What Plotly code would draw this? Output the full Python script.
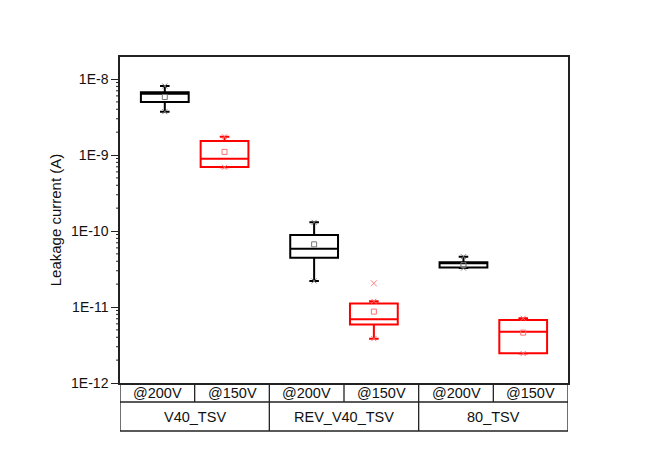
import plotly.graph_objects as go

# ---- data ----
groups = ["V40_TSV", "REV_V40_TSV", "80_TSV"]
conditions = ["@200V", "@150V"]

# @200V (black)
b_q1 = [5.0e-9, 4.45e-11, 3.3e-11]
b_med = [6.4e-9, 5.85e-11, 3.8e-11]
b_q3 = [6.68e-9, 8.85e-11, 3.87e-11]
b_low = [3.72e-9, 2.2e-11, 3.25e-11]
b_up = [8.09e-9, 1.30e-10, 4.59e-11]
b_mean = [5.8e-9, 6.68e-11, 3.55e-11]

# @150V (red)
r_q1 = [6.95e-10, 5.9e-12, 2.46e-12]
r_med = [8.94e-10, 6.9e-12, 4.73e-12]
r_q3 = [1.53e-9, 1.11e-11, 6.74e-12]
r_low = [6.9e-10, 3.83e-12, 2.44e-12]
r_up = [1.74e-9, 1.19e-11, 7.1e-12]
r_mean = [1.1e-9, 8.7e-12, 4.6e-12]

# outliers (group index, value) for @150V
r_out_group = [1]
r_out_val = [2.05e-11]

ytick_vals = [1e-12, 1e-11, 1e-10, 1e-9, 1e-8]
ytick_text = ["1E-12", "1E-11", "1E-10", "1E-9", "1E-8"]

FONT = "Arial, Liberation Sans, sans-serif"
OFFSET = 0.40
BOXW = 0.64

centers = [2 * i + 1.5 for i in range(len(groups))]
xb = [c - OFFSET for c in centers]
xr = [c + OFFSET for c in centers]
x_left, x_right = 0.5, 2 * len(groups) + 0.5

fig = go.Figure()

def add_box(x, q1, med, q3, low, up, mean, color, mean_color):
    fig.add_trace(go.Box(
        x=x, q1=q1, median=med, q3=q3, lowerfence=low, upperfence=up,
        width=BOXW, whiskerwidth=0.2, fillcolor="rgba(0,0,0,0)",
        line=dict(color=color, width=2), boxpoints=False, showlegend=False,
        hoverinfo="skip"))
    fig.add_trace(go.Scatter(
        x=x, y=mean, mode="markers", showlegend=False,
        marker=dict(symbol="square-open", size=5, color=mean_color,
                    line=dict(width=1, color=mean_color))))
    fig.add_trace(go.Scatter(
        x=x + x, y=low + up, mode="markers", showlegend=False,
        marker=dict(symbol="x-thin-open", size=5, color=mean_color,
                    line=dict(width=1, color=mean_color))))

add_box(xb, b_q1, b_med, b_q3, b_low, b_up, b_mean, "#000000", "#777777")
add_box(xr, r_q1, r_med, r_q3, r_low, r_up, r_mean, "#ff0000", "#ff7070")

fig.add_trace(go.Scatter(
    x=[xr[g] for g in r_out_group], y=r_out_val, mode="markers", showlegend=False,
    marker=dict(symbol="x-thin-open", size=6, color="#ff8080",
                line=dict(width=1, color="#ff8080"))))

# ---- layout geometry ----
ML, MR, MT, MB = 112, 102, 49, 79
PW = 662 - ML - MR  # plot width px
PH = 454 - MT - MB  # plot height px

def py(px_below):
    return -px_below / PH

line = dict(color="#222222", width=1.3)
shapes = []

# minor ticks on the log y axis (2..9 within each decade)
minor_vals = [m * 10 ** e for e in range(-12, -7) for m in range(2, 10)]
for v in minor_vals:
    shapes.append(dict(type="line", xref="paper", yref="y", x0=-4 / PW, x1=0,
                       y0=v, y1=v, line=dict(color="#222222", width=1)))

# table below plot
row1_bot = py(19)
row2_bot = py(48)
shapes.append(dict(type="line", xref="x", yref="paper", x0=x_left, x1=x_right,
                   y0=row1_bot, y1=row1_bot, line=line))
shapes.append(dict(type="line", xref="x", yref="paper", x0=x_left, x1=x_right,
                   y0=row2_bot, y1=row2_bot, line=line))
for i in range(len(groups) + 1):
    xv = 2 * i + 0.5
    shapes.append(dict(type="line", xref="x", yref="paper", x0=xv, x1=xv,
                       y0=0, y1=row2_bot, line=line))
for c in centers:
    shapes.append(dict(type="line", xref="x", yref="paper", x0=c, x1=c,
                       y0=0, y1=row1_bot, line=line))

annotations = []
for gi, g in enumerate(groups):
    for ci, cond in enumerate(conditions):
        annotations.append(dict(x=2 * gi + 1 + ci, y=py(10), xref="x", yref="paper",
                                text=cond, showarrow=False, yanchor="middle",
                                font=dict(family=FONT, size=14.5, color="#111111")))
    annotations.append(dict(x=centers[gi], y=py(34), xref="x", yref="paper",
                            text=g, showarrow=False, yanchor="middle",
                            font=dict(family=FONT, size=14.5, color="#111111")))

fig.update_layout(
    width=662, height=454,
    margin=dict(l=ML, r=MR, t=MT, b=MB),
    paper_bgcolor="white", plot_bgcolor="white",
    font=dict(family=FONT, size=13, color="#111111"),
    shapes=shapes, annotations=annotations,
    xaxis=dict(range=[x_left, x_right], showticklabels=False, ticks="",
               showgrid=False, zeroline=False, showline=True, mirror=True,
               linecolor="#222222", linewidth=1.5, fixedrange=True),
    yaxis=dict(type="log", range=[-12, -7.71], tickmode="array",
               tickvals=ytick_vals, ticktext=ytick_text, ticks="outside",
               ticklen=7, tickwidth=1.3, tickcolor="#222222",
               showgrid=False, zeroline=False, showline=True, mirror=True,
               linecolor="#222222", linewidth=1.5,
               title=dict(text="Leakage current (A)", standoff=6,
                          font=dict(size=15, family=FONT)),
               tickfont=dict(size=14, family=FONT)),
)

fig.write_html("out.html")
